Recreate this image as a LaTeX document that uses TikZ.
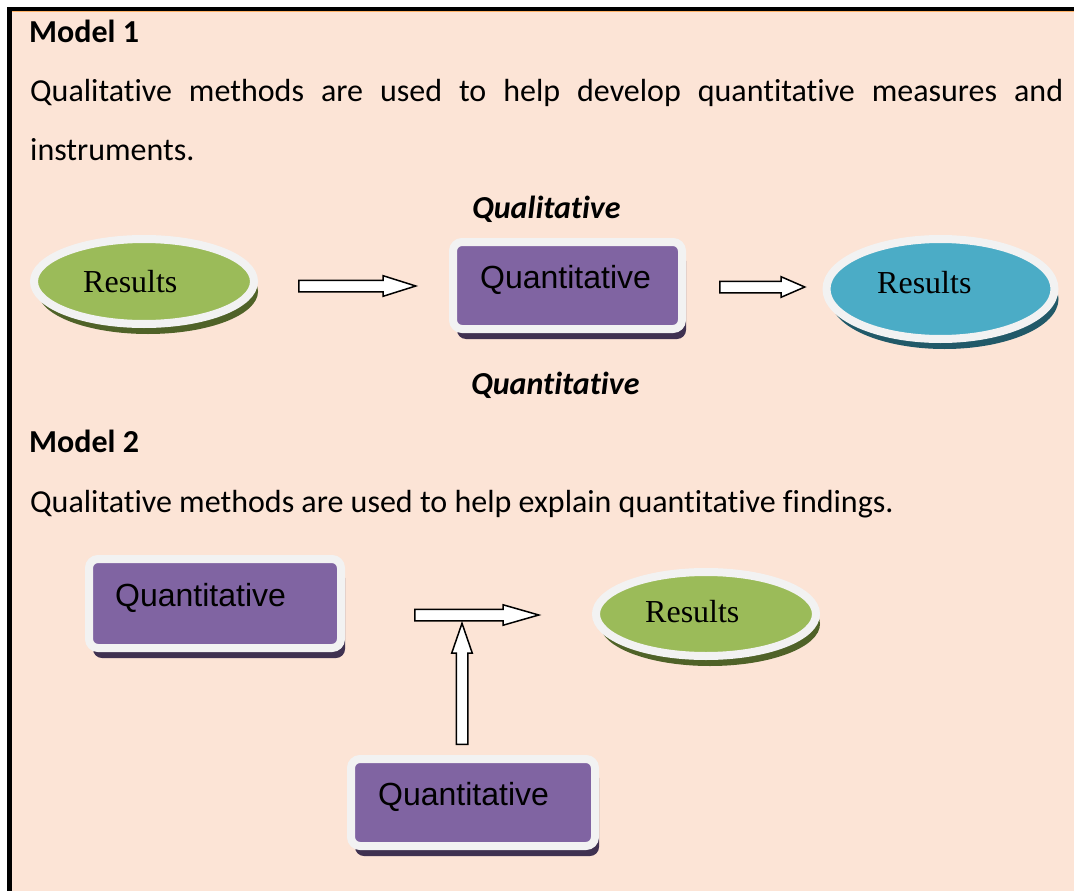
\documentclass[tikz,border=0pt]{standalone}
\usepackage{fontspec}
\setmainfont{Carlito}[Ligatures=NoCommon]
\newfontfamily\resfont{Liberation Serif}
\newfontfamily\boxfont{Liberation Sans}
\usetikzlibrary{shapes.geometric,shapes.arrows,shadows}
\definecolor{peach}{HTML}{FCE4D6}
\definecolor{ringgray}{HTML}{F2F2F2}
\definecolor{resgreen}{HTML}{9BBB59}
\definecolor{resgreendk}{HTML}{4F6228}
\definecolor{resblue}{HTML}{4BACC6}
\definecolor{resbluedk}{HTML}{215968}
\definecolor{quantpurple}{HTML}{8064A2}
\definecolor{quantpurpledk}{HTML}{3F3151}

\begin{document}
\begin{tikzpicture}[x=1pt,y=-1pt,
txt/.style={anchor=base west,inner sep=0,font=\fontsize{32}{36}\selectfont},
restxt/.style={anchor=base west,inner sep=0,font=\resfont\fontsize{32}{36}\selectfont},
boxtxt/.style={anchor=base west,inner sep=0,font=\boxfont\fontsize{32}{36}\selectfont},
resellipse/.style={ellipse,draw=ringgray,line width=8pt,inner sep=0,
  drop shadow={shadow xshift=4pt,shadow yshift=-10pt,fill=#1dk,opacity=1},fill=#1},
quantbox/.style={rectangle,rounded corners=9pt,draw=ringgray,line width=8pt,inner sep=0,
  drop shadow={shadow xshift=4pt,shadow yshift=-10pt,fill=quantpurpledk,opacity=1},fill=quantpurple},
blockarrow/.style={single arrow,anchor=tail,draw=black,fill=white,line width=1.5pt,
  inner xsep=0,inner ysep=5pt,single arrow head extend=4.5pt,single arrow tip angle=#1}]
\useasboundingbox (0,0) rectangle (1074,891);
% frame
\fill[peach] (12,11) rectangle (1074,891);
\fill[black] (7,7) rectangle (1074,11);
\fill[black] (7,7) rectangle (12,891);
\draw[orange!60,line width=1pt] (12,11.5) -- (1074,11.5);

% Model 1
\node[txt] (m1) at (29,43) {\bfseries Model 1};
\node[txt] (m1a) at (30,101) {\makebox[1033pt][s]{Qualitative methods are used to help develop quantitative measures and}};
\node[txt] (m1b) at (30,160) {instruments.};
\node[txt] (qual) at (472,218) {\bfseries\itshape Qualitative};
\node[txt] (quan) at (471,394) {\bfseries\itshape Quantitative};

\node[resellipse=resgreen,minimum width=220pt,minimum height=85pt] (res1) at (144,281.5) {};
\node[restxt] (res1t) at (83,292) {Results};
\node[blockarrow=35,minimum height=117pt] (a1) at (298,286) {};
\node[quantbox,minimum width=229pt,minimum height=87pt] (q1) at (567.5,285.5) {};
\node[boxtxt] (q1t) at (480,288) {Quantitative};
\node[blockarrow=47,minimum height=85pt] (a2) at (719,287) {};
\node[resellipse=resblue,minimum width=228pt,minimum height=100pt] (res2) at (940.5,289) {};
\node[restxt] (res2t) at (877,293) {Results};

% Model 2
\node[txt] (m2) at (29,452) {\bfseries Model 2};
\node[txt] (m2a) at (30,512) {Qualitative methods are used to help explain quantitative findings.};

\node[quantbox,minimum width=252pt,minimum height=89pt] (q2) at (215,603.5) {};
\node[boxtxt] (q2t) at (115,606) {Quantitative};
\node[blockarrow=32,minimum height=124pt] (a3) at (414,615) {};
\node[blockarrow=38,minimum height=121pt,rotate=90] (a4) at (462,745) {};
\node[resellipse=resgreen,minimum width=220pt,minimum height=84pt] (res3) at (706,614) {};
\node[restxt] (res3t) at (645,622) {Results};
\node[quantbox,minimum width=244pt,minimum height=87pt] (q3) at (473,802.5) {};
\node[boxtxt] (q3t) at (378,805) {Quantitative};
\end{tikzpicture}
\end{document}
